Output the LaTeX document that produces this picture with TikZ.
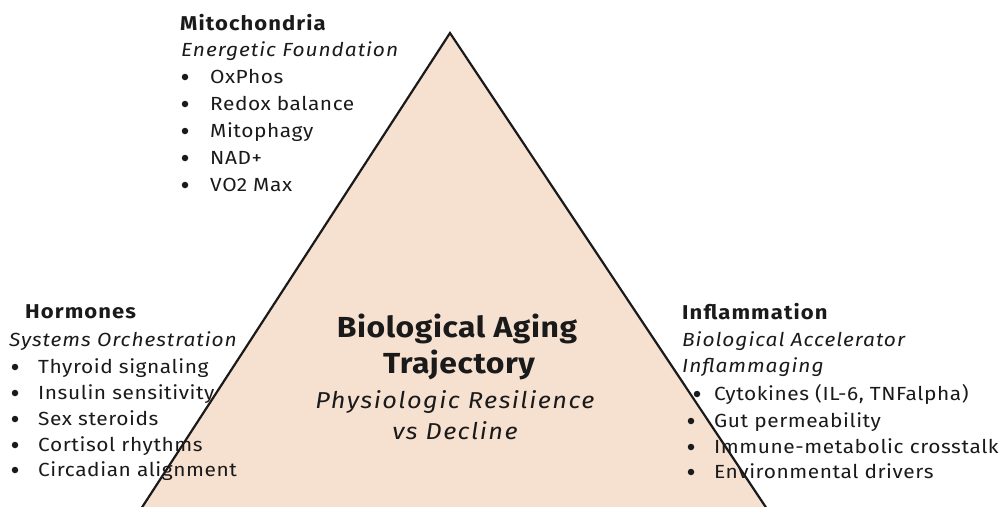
\documentclass[tikz,border=0pt]{standalone}
\usepackage{fontspec}
\setmainfont{Fira Sans}[FakeStretch=1.1]
\definecolor{peach}{RGB}{246,224,208}
\definecolor{txt}{RGB}{26,26,26}
\begin{document}
\begin{tikzpicture}[x=1pt,y=-1pt,
  hd/.style={anchor=base west,inner sep=0pt,text=txt,font=\fontsize{20}{22}\selectfont\bfseries\addfontfeatures{LetterSpace=5.5}},
  sub/.style={anchor=base west,inner sep=0pt,text=txt,font=\fontsize{19}{22}\selectfont\itshape\addfontfeatures{LetterSpace=5}},
  item/.style={anchor=base west,inner sep=0pt,text=txt,font=\fontsize{19}{22}\selectfont\addfontfeatures{LetterSpace=3}},
  dot/.style={circle,fill=txt,inner sep=0pt,minimum size=6.5pt},
  title/.style={anchor=base,inner sep=0pt,text=txt,font=\fontsize{29}{32}\selectfont\bfseries\addfontfeatures{LetterSpace=2}},
  subtitle/.style={anchor=base,inner sep=0pt,text=txt,font=\fontsize{23}{26}\selectfont\itshape\addfontfeatures{LetterSpace=6.5}},
  edge/.style={draw=txt,line width=2.2pt,line join=miter}]
\useasboundingbox (0,0) rectangle (1008,506);
\clip (0,0) rectangle (1008,506);
\coordinate (apex) at (450,33);
\coordinate (bl) at (139,512);
\coordinate (br) at (769,512);
\fill[peach] (bl) -- (apex) -- (br) -- cycle;
\path[edge] (bl) -- (apex) -- (br);

% center
\node[title] (t1) at (457,337) {Biological Aging};
\node[title] (t2) at (459,373) {Trajectory};
\node[subtitle] (s1) at (455,408) {Physiologic Resilience};
\node[subtitle] (s2) at (455,439) {vs Decline};

% Mitochondria
\node[hd] (mh) at (180,30) {Mitochondria};
\node[sub] (ms) at (181,56) {Energetic Foundation};
\node[dot] (md1) at (185,77) {};
\node[item] (mi1) at (210,83) {OxPhos};
\node[dot] (md2) at (185,104) {};
\node[item] (mi2) at (210,110) {Redox balance};
\node[dot] (md3) at (185,131) {};
\node[item] (mi3) at (210,137) {Mitophagy};
\node[dot] (md4) at (185,158) {};
\node[item] (mi4) at (210,164) {NAD+};
\node[dot] (md5) at (185,185) {};
\node[item] (mi5) at (210,191) {VO2 Max};

% Hormones
\node[hd] (hh) at (25,318) {Hormones};
\node[sub] (hs) at (9,346) {Systems Orchestration};
\node[dot] (hd1) at (15,367) {};
\node[item] (hi1) at (38,373) {Thyroid signaling};
\node[dot] (hd2) at (15,393) {};
\node[item] (hi2) at (38,399) {Insulin sensitivity};
\node[dot] (hd3) at (15,419) {};
\node[item] (hi3) at (38,425) {Sex steroids};
\node[dot] (hd4) at (15,445) {};
\node[item] (hi4) at (38,451) {Cortisol rhythms};
\node[dot] (hd5) at (15,470) {};
\node[item] (hi5) at (38,476) {Circadian alignment};

% Inflammation
\node[hd] (ih) at (682,319) {Inflammation};
\node[sub] (is1) at (682,346) {Biological Accelerator};
\node[sub] (is2) at (682,372) {Inflammaging};
\node[dot] (id1) at (697,394) {};
\node[item] (ii1) at (714,400) {Cytokines (IL-6, TNFalpha)};
\node[dot] (id2) at (691,421) {};
\node[item] (ii2) at (714,427) {Gut permeability};
\node[dot] (id3) at (691,447) {};
\node[item] (ii3) at (714,453) {Immune-metabolic crosstalk};
\node[dot] (id4) at (691,472) {};
\node[item] (ii4) at (714,478) {Environmental drivers};
\end{tikzpicture}
\end{document}
